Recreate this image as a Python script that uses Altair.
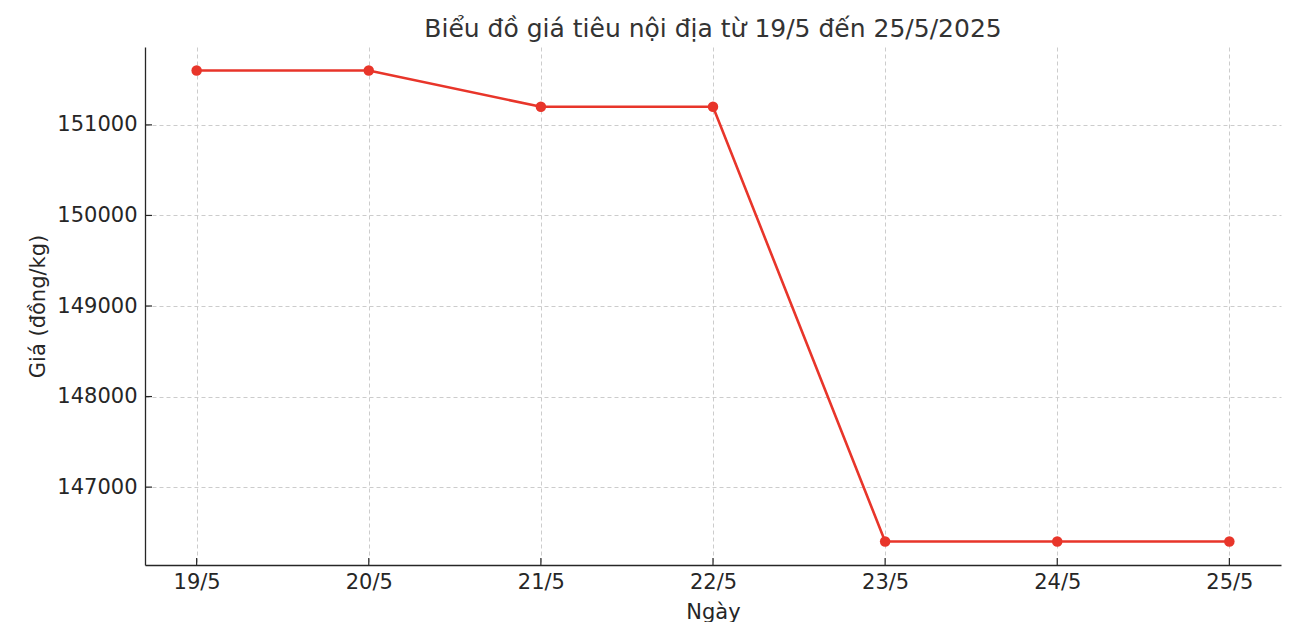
import altair as alt
import pandas as pd

dates = ["19/5", "20/5", "21/5", "22/5", "23/5", "24/5", "25/5"]
prices = [151600, 151600, 151200, 151200, 146400, 146400, 146400]
y_ticks = [147000, 148000, 149000, 150000, 151000]

df = pd.DataFrame({"i": list(range(len(dates))), "date": dates, "price": prices})
ytick_df = pd.DataFrame({"v": y_ticks})
xtick_df = pd.DataFrame({"i": list(range(len(dates)))})

W, H = 1136, 518
FONT = "DejaVu Sans"
DARK = "#262626"
RED = "#e8352a"

label_expr = "[" + ",".join(f"'{d}'" for d in dates) + "][datum.value]"

xscale = alt.Scale(domain=[-0.3, len(dates) - 1 + 0.3], nice=False, zero=False)
yscale = alt.Scale(domain=[146140, 151860], nice=False, zero=False)

xaxis = alt.Axis(
    title="Ngày", values=list(range(len(dates))), labelExpr=label_expr,
    ticks=False, labelPadding=6, titlePadding=9,
    grid=True, gridColor="#cccccc", gridDash=[4, 3], gridWidth=1,
    domainColor=DARK, domainWidth=1.3, labelColor=DARK, titleColor=DARK,
    labelFont=FONT, titleFont=FONT, labelFontSize=21, titleFontSize=21,
    titleFontWeight="normal",
)
yaxis = alt.Axis(
    title="Giá (đồng/kg)", values=y_ticks, format="d",
    ticks=False, labelPadding=8, titlePadding=8,
    grid=True, gridColor="#cccccc", gridDash=[4, 3], gridWidth=1,
    domainColor=DARK, domainWidth=1.3, labelColor=DARK, titleColor=DARK,
    labelFont=FONT, titleFont=FONT, labelFontSize=21, titleFontSize=21,
    titleFontWeight="normal",
)

base = alt.Chart(df)
line = base.mark_line(color=RED, strokeWidth=2.6).encode(
    x=alt.X("i:Q", scale=xscale, axis=xaxis),
    y=alt.Y("price:Q", scale=yscale, axis=yaxis),
)
points = base.mark_point(filled=True, color=RED, size=110, opacity=1).encode(
    x=alt.X("i:Q", scale=xscale),
    y=alt.Y("price:Q", scale=yscale),
)
ytk = alt.Chart(ytick_df).mark_rule(color=DARK, strokeWidth=1.2).encode(
    y=alt.Y("v:Q", scale=yscale), x=alt.value(0), x2=alt.value(7)
)
xtk = alt.Chart(xtick_df).mark_rule(color=DARK, strokeWidth=1.2).encode(
    x=alt.X("i:Q", scale=xscale), y=alt.value(H), y2=alt.value(H - 7)
)

chart = alt.layer(ytk, xtk, line, points).properties(
    width=W, height=H,
    title=alt.TitleParams(
        "Biểu đồ giá tiêu nội địa từ 19/5 đến 25/5/2025",
        font=FONT, fontSize=25, fontWeight="normal", color="#333333",
        anchor="middle", offset=5,
    ),
    autosize=alt.AutoSizeParams(type="none"),
    padding={"left": 137, "top": 39, "right": 5, "bottom": 57},
).configure(background="white").configure_view(strokeWidth=0, stroke="transparent")

chart.save("out.html", embed_options={"renderer": "svg", "actions": False})
